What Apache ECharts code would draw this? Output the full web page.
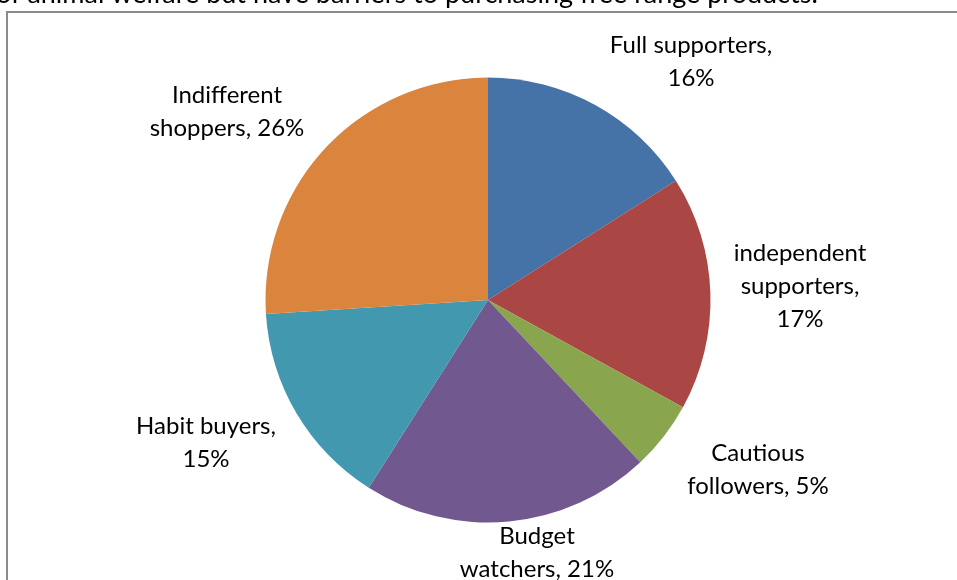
<!DOCTYPE html>
<html>
<head>
<meta charset="utf-8">
<script src="https://cdn.jsdelivr.net/npm/echarts@6/dist/echarts.min.js"></script>
<style>
html,body{margin:0;padding:0;background:#fff;}
#chart{width:957px;height:580px;}
</style>
</head>
<body>
<div id="chart"></div>
<script>
// Data
const categories = ['Full supporters', 'independent supporters', 'Cautious followers', 'Budget watchers', 'Habit buyers', 'Indifferent shoppers'];
const values = [16, 17, 5, 21, 15, 26];
const labelTexts = ['Full supporters,\n', 'independent\nsupporters,\n', 'Cautious\nfollowers, ', 'Budget\nwatchers, ', 'Habit buyers,\n', 'Indifferent\nshoppers, '];
const headerText = 'of animal welfare but have barriers to purchasing free range products.';

// Styles / layout
const colors = ['#4572A7', '#AA4643', '#89A54E', '#71588F', '#4198AF', '#DB843D'];
const labelPos = [[691, 62], [800, 286], [758, 470], [537, 553], [206, 443], [227, 112]];
const FONT = 'Lato, "Open Sans", sans-serif';

const chart = echarts.init(document.getElementById('chart'), null, {renderer: 'canvas'});
chart.setOption({
  backgroundColor: '#ffffff',
  animation: false,
  graphic: [
    {type: 'rect', shape: {x: 7, y: 12, width: 1000, height: 620}, style: {fill: 'none', stroke: '#8c8c8c', lineWidth: 2}, silent: true, z: 0},
    {type: 'text', x: -4, y: 8, style: {text: headerText, font: '27px ' + FONT, fill: '#000', textVerticalAlign: 'bottom', textAlign: 'left'}, silent: true}
  ],
  series: [{
    type: 'pie',
    center: [488, 300],
    radius: 222.5,
    startAngle: 90,
    clockwise: true,
    avoidLabelOverlap: false,
    data: categories.map((c, i) => ({name: c, value: values[i], itemStyle: {color: colors[i]}})),
    itemStyle: {borderWidth: 0},
    emphasis: {disabled: true},
    label: {
      show: true,
      position: 'outside',
      color: '#000',
      fontFamily: FONT,
      fontSize: 24,
      lineHeight: 33,
      align: 'center',
      formatter: p => labelTexts[p.dataIndex] + p.value + '%'
    },
    labelLine: {show: false},
    labelLayout: params => {
      const p = labelPos[params.dataIndex];
      return {x: p[0], y: p[1], align: 'center', verticalAlign: 'middle', hideOverlap: false, moveOverlap: false};
    }
  }]
});
</script>
</body>
</html>
